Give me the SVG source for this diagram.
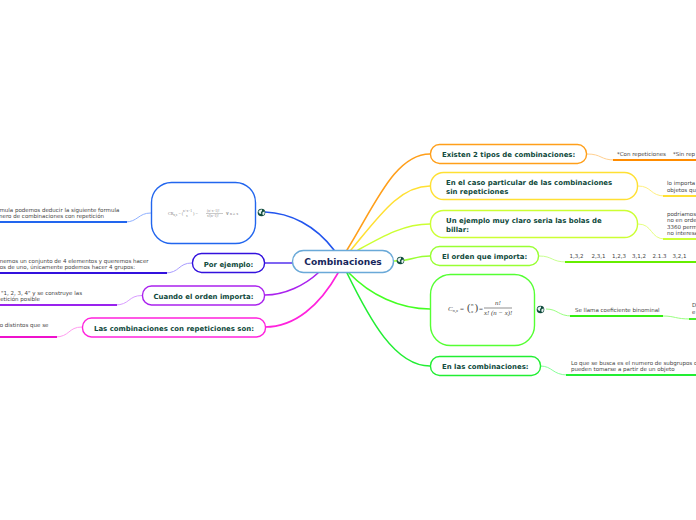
<svg xmlns="http://www.w3.org/2000/svg" width="696" height="520" viewBox="0 0 696 520">
<style>
text{font-family:"DejaVu Sans",sans-serif}
.t{font-size:6.95px;font-weight:bold;fill:#0f4a3c}
.s{font-size:5.5px;fill:#444}
.n{fill:#fff;stroke-width:1.4}
.c{fill:none;stroke-width:1.6;stroke-linecap:round}
.l{fill:none;stroke-width:1}
.u{fill:none;stroke-width:1.8}
.f{font-family:"Liberation Serif",serif;fill:#444}
.g{font-family:"Liberation Serif",serif;fill:#777}
</style>
<defs>
<g id="globe"><circle r="3.8" fill="#0f4a3c"/><path d="M-3-1.2Q-1.4-3.4.4-3L.6-1.6-.6-.6-.2 1-1.4 1.6Q-3.2.6-3-1.2ZM1.2-.6 3.2-1Q3.6 1.4 1.6 3L.8 1.6Z" fill="#e8f4f0"/></g>
</defs>
<rect width="696" height="520" fill="#fff"/>
<g id="connectors">
<path class="c" stroke="#ff9f1a" d="M347 250C375 205 395 154 430 154"/>
<path class="c" stroke="#ffe033" d="M351 250C380 215 400 186 430 186"/>
<path class="c" stroke="#ccff33" d="M358 250C385 235 405 224 430 224"/>
<path class="c" stroke="#99ff33" d="M394 261C410 261 415 256 430 256"/>
<path class="c" stroke="#44ff22" d="M349 273C370 295 400 309 430 309"/>
<path class="c" stroke="#22ee33" d="M347 273C370 320 395 366 430 366"/>
<path class="c" stroke="#2255ee" d="M334 250C315 225 290 213 265 212"/>
<path class="c" stroke="#5533ee" d="M292 263H265"/>
<path class="c" stroke="#aa22ee" d="M318 273C305 285 285 295 265 295"/>
<path class="c" stroke="#ff22dd" d="M338 273C320 305 295 327 265 327"/>
<path class="l" stroke="#8fb0ff" d="M151 213C138 213 138 222 125 222"/><path class="u" stroke="#2266ee" d="M0 222H127"/>
<path class="l" stroke="#a99cff" d="M192 263C178 263 180 273 165 273"/><path class="u" stroke="#3311dd" d="M0 273H167"/>
<path class="l" stroke="#d99cff" d="M142 295.500C128 295.500 130 305 115 305"/><path class="u" stroke="#9922ee" d="M0 305H117"/>
<path class="l" stroke="#ff9cf0" d="M82 327C68 327 70 337 55 337"/><path class="u" stroke="#ee11cc" d="M0 337H57"/>
<path class="l" stroke="#ffd090" d="M587 154C602 154 600 160 615 160"/><path class="u" stroke="#ff8c00" d="M613 160H696"/>
<path class="l" stroke="#fff080" d="M638 186C652 186 650 196 665 196"/><path class="u" stroke="#ffe033" d="M663 196H696"/>
<path class="l" stroke="#e6ff80" d="M638 224C653 224 650 239 665 239"/><path class="u" stroke="#ccff33" d="M663 239H696"/>
<path class="l" stroke="#c8ff90" d="M539 256C553 256 551 262 567 262"/><path class="u" stroke="#66ee00" d="M565 262H696"/>
<path class="l" stroke="#99ff80" d="M546 309C558 309 558 316 572 316"/><path class="u" stroke="#33ee11" d="M570 316H663"/>
<path class="l" stroke="#99ff80" d="M663 316C675 316 675 319 691 319"/><path class="u" stroke="#33ee11" d="M689 319H696"/>
<path class="l" stroke="#88ff99" d="M540 366C553 366 552 375 568 375"/><path class="u" stroke="#22ee33" d="M566 375H696"/>
</g>
<g id="central"><rect class="n" x="292.500" y="250.500" width="101" height="22" rx="11" stroke="#6aa9d8"/><text x="343" y="265" text-anchor="middle" font-size="9.100" font-weight="bold" fill="#17275c">Combinaciones</text><use href="#globe" x="400.500" y="260.500"/></g>
<g id="n-existen"><rect class="n" x="430.500" y="144.500" width="156" height="19" rx="9" stroke="#ff9f1a"/><text class="t" x="442" y="157">Existen 2 tipos de combinaciones:</text><text class="s" x="617" y="156">*Con repeticiones</text><text class="s" x="673" y="156">*Sin rep</text></g>
<g id="n-caso"><rect class="n" x="430.500" y="172.500" width="207" height="27" rx="13" stroke="#ffe033"/><text class="t" x="446" y="185">En el caso particular de las combinaciones</text><text class="t" x="446" y="194">sin repeticiones</text><text class="s" x="667" y="185">lo importa</text><text class="s" x="667" y="192">objetos qu</text></g>
<g id="n-ejemplo"><rect class="n" x="430.500" y="210.500" width="207" height="27" rx="13" stroke="#ccff33"/><text class="t" x="446" y="223">Un ejemplo muy claro seria las bolas de</text><text class="t" x="446" y="232">billar:</text><text class="s" x="667" y="216">podríamos</text><text class="s" x="667" y="222">no en orde</text><text class="s" x="667" y="229">3360 perm</text><text class="s" x="667" y="235">no interesa</text></g>
<g id="n-orden"><rect class="n" x="430.500" y="246.500" width="108" height="19" rx="9" stroke="#99ff33"/><text class="t" x="442" y="259">El orden que importa:</text><text class="s" x="569.500" y="258">1,3,2</text><text class="s" x="591.500" y="258">2,3,1</text><text class="s" x="612" y="258">1,2,3</text><text class="s" x="632" y="258">3,1,2</text><text class="s" x="652.500" y="258">2.1.3</text><text class="s" x="672.500" y="258">3,2,1</text></g>
<g id="n-formula"><rect class="n" x="430.500" y="274.500" width="104" height="71" rx="20" stroke="#55ff33"/>
<text class="f" x="448" y="311" font-size="7" font-style="italic">C<tspan font-size="4.500" dy="1">n,x</tspan></text><text class="f" x="460" y="311" font-size="7">=</text><text class="f" x="467" y="311" font-size="11">(</text><text class="f" x="471" y="306" font-size="5" font-style="italic">n</text><text class="f" x="471" y="313" font-size="5" font-style="italic">x</text><text class="f" x="474.500" y="311" font-size="11">)</text><text class="f" x="479" y="311" font-size="7">=</text><text class="f" x="495" y="305" font-size="7" font-style="italic">n!</text><path d="M484 308H512" stroke="#444" stroke-width=".6"/><text class="f" x="484" y="314.500" font-size="6.800" font-style="italic">x! (n − x)!</text>
<use href="#globe" x="540.500" y="309.500"/><text class="s" x="575" y="312">Se llama coeficiente binominal</text><text class="s" x="692" y="307">D</text><text class="s" x="692" y="314">e</text></g>
<g id="n-en-las"><rect class="n" x="430.500" y="356.500" width="110" height="19" rx="9" stroke="#22ee33"/><text class="t" x="442" y="369">En las combinaciones:</text><text class="s" x="571" y="365">Lo que se busca es el numero de subgrupos d</text><text class="s" x="571" y="371">pueden tomarse a partir de un objeto</text></g>
<g id="n-formula-rep"><rect class="n" x="151.500" y="182.500" width="104" height="61" rx="20" stroke="#2266ee"/>
<text class="g" x="168" y="214.500" font-size="4.200">CR<tspan font-size="3" dy="1">n,x</tspan><tspan dy="-1"> = (</tspan></text><text class="g" x="183" y="212" font-size="3.400">n+x−1</text><text class="g" x="186" y="216.500" font-size="3.400">x</text><text class="g" x="193" y="214.500" font-size="4.200">) =</text><text class="g" x="207" y="212" font-size="3.400">(n+x−1)!</text><path d="M206 213.500H223" stroke="#777" stroke-width=".4"/><text class="g" x="207" y="217" font-size="3.400">x!(n−1)!</text><text class="g" x="226" y="214.500" font-size="4">∀ n ≥ x</text>
<use href="#globe" x="261.500" y="212.500"/><text class="s" x="34" y="212" text-anchor="end">rmula podem</text><text class="s" x="34" y="212">os deducir la siguiente formula</text><text class="s" x="104" y="218" text-anchor="end">nero de combinaciones con repetición</text></g>
<g id="n-por"><rect class="n" x="192.500" y="253.500" width="72" height="19" rx="9" stroke="#3311dd"/><text class="t" x="228.500" y="266.500" text-anchor="middle">Por ejemplo:</text><text class="s" x="35" y="263" text-anchor="end">nemos un co</text><text class="s" x="35" y="263">njunto de 4 elementos y queremos hacer</text><text class="s" x="135" y="269" text-anchor="end">os de uno, únicamente podemos hacer 4 grupos:</text></g>
<g id="n-cuando"><rect class="n" x="142.500" y="286" width="122" height="19" rx="9" stroke="#aa22ee"/><text class="t" x="203.500" y="299" text-anchor="middle">Cuando el orden importa:</text><text class="s" x="82" y="295" text-anchor="end">"1, 2, 3, 4" y se construye las</text><text class="s" x="40" y="301" text-anchor="end">etición posible</text></g>
<g id="n-las"><rect class="n" x="82.500" y="318" width="183" height="19" rx="9" stroke="#ff22dd"/><text class="t" x="174" y="331" text-anchor="middle">Las combinaciones con repeticiones son:</text><text class="s" x="37" y="327" text-anchor="end">o distintos qu</text><text class="s" x="37" y="327">e se</text></g>
</svg>
